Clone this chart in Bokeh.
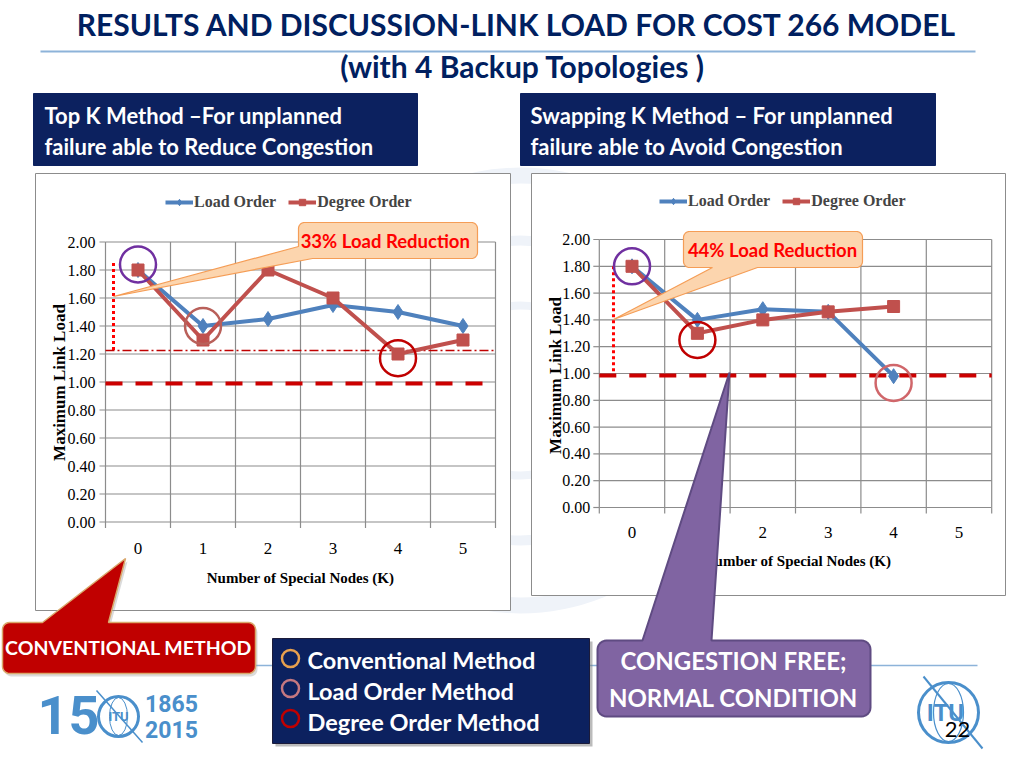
import math
from bokeh.plotting import figure
from bokeh.models import Range1d, Legend, LegendItem
from bokeh.core.properties import value
from bokeh.embed import file_html
from bokeh.resources import INLINE

# ---------------- data ----------------
k_nodes = [0, 1, 2, 3, 4, 5]
k_tick_labels = ["0", "1", "2", "3", "4", "5"]
load_ticks = [0.0, 0.2, 0.4, 0.6, 0.8, 1.0, 1.2, 1.4, 1.6, 1.8, 2.0]
load_tick_labels = ["0.00", "0.20", "0.40", "0.60", "0.80", "1.00",
                    "1.20", "1.40", "1.60", "1.80", "2.00"]
series_names = ["Load Order", "Degree Order"]

# Top K method (left chart)
topk_k = [0, 1, 2, 3, 4, 5]
topk_load_order = [1.80, 1.40, 1.45, 1.55, 1.50, 1.40]
topk_degree_order = [1.80, 1.30, 1.80, 1.60, 1.20, 1.30]
topk_congestion = 0.99
topk_reduced = 1.225
topk_conventional = 1.85
topk_mark_k = [0, 1, 4]
topk_mark_load = [1.84, 1.40, 1.17]

# Swapping K method (right chart)
swap_k = [0, 1, 2, 3, 4]
swap_load_order = [1.80, 1.40, 1.48, 1.46, 0.98]
swap_degree_order = [1.80, 1.30, 1.40, 1.46, 1.50]
swap_congestion = 0.985
swap_conventional = 1.80
swap_mark_k = [0, 1, 4]
swap_mark_load = [1.80, 1.25, 0.93]

title_lines = ["RESULTS AND DISCUSSION-LINK LOAD  FOR COST 266 MODEL",
               "(with 4 Backup Topologies )"]
left_box_lines = ["Top K Method \u2013For unplanned", "failure able to Reduce Congestion"]
right_box_lines = ["Swapping K Method \u2013 For unplanned", "failure able to Avoid Congestion"]
callout_left = "33%  Load Reduction"
callout_right = "44% Load Reduction"
conventional_text = "CONVENTIONAL METHOD"
congestion_lines = ["CONGESTION FREE;", "NORMAL CONDITION"]
method_labels = ["Conventional Method", "Load Order Method", "Degree Order Method"]
y_title = "Maximum Link Load"
x_title = "Number of Special Nodes (K)"
page_number = "22"

# ---------------- styles ----------------
BLUE = "#4F81BD"
RED = "#C0504D"
NAVY = "#0C215F"
TITLE_NAVY = "#002060"
SANS = value("Lato")
SERIF = value("Liberation Serif")
GRID = "#8C8C8C"

W, H = 1008, 752
OFF = 0
p = figure(width=W, height=H, x_range=Range1d(OFF, OFF + W), y_range=Range1d(OFF + H, OFF),
           toolbar_location=None, output_backend="svg", min_border=0,
           x_axis_location=None, y_axis_location=None,
           background_fill_color="white", border_fill_color="white")
p.grid.visible = False
p.outline_line_color = None


def txt(x, y, s, size, color, align="center", style="normal", font=SANS, angle=0.0, **kw):
    return p.text(x=[x], y=[y], text=[s], text_font=font, text_font_size=f"{size}px",
                  text_font_style=style, text_color=color, text_align=align,
                  text_baseline="middle", angle=angle, **kw)


def bubble(x0, y0, x1, y1, r, top=None, bottom=None, corner_bl=None, n=6):
    xs, ys = [], []

    def arc(cx, cy, a0, a1):
        for i in range(n + 1):
            a = a0 + (a1 - a0) * i / n
            xs.append(cx + r * math.cos(a))
            ys.append(cy + r * math.sin(a))

    def pt(x, y):
        xs.append(x)
        ys.append(y)

    arc(x0 + r, y0 + r, math.pi, 1.5 * math.pi)
    if top:
        a, b, tx, ty = top
        pt(a, y0); pt(tx, ty); pt(b, y0)
    arc(x1 - r, y0 + r, 1.5 * math.pi, 2 * math.pi)
    arc(x1 - r, y1 - r, 0, 0.5 * math.pi)
    if bottom:
        a, b, tx, ty = bottom
        pt(b, y1); pt(tx, ty); pt(a, y1)
    if corner_bl:
        a, c, tx, ty = corner_bl
        pt(a, y1); pt(tx, ty); pt(x0, c)
    else:
        arc(x0 + r, y1 - r, 0.5 * math.pi, math.pi)
    return xs, ys


# ---------------- faint watermark ----------------
for sz, lw in [(430, 16), (300, 10), (170, 8)]:
    p.scatter(x=[520], y=[390], size=sz, marker="circle", fill_color=None,
              line_color="#EFF3F9", line_width=lw)

# ---------------- title ----------------
txt(520, 23, title_lines[0], 30, TITLE_NAVY, style="bold")
p.segment(x0=[40], y0=[51], x1=[975], y1=[51], line_color="#8DB3D9", line_width=2)
txt(522, 65, title_lines[1], 30, TITLE_NAVY, style="bold")

# ---------------- top boxes ----------------
p.quad(left=[33, 520], right=[417, 935], top=[93, 93], bottom=[165, 165],
       fill_color=NAVY, line_color=NAVY)
for i, s in enumerate(left_box_lines):
    txt(44, 115 + 31 * i, s, 22, "white", align="left", style="bold")
for i, s in enumerate(right_box_lines):
    txt(530, 115 + 31 * i, s, 22, "white", align="left", style="bold")

# bottom rule
p.segment(x0=[20], y0=[665], x1=[977], y1=[665], line_color="#8DB3D9", line_width=1.5)

# ---------------- charts ----------------
charts = [
    dict(name="c1", x0=137.5, dx=65.0, y0=521.5, dy=140.0, box=(35, 173, 510, 610),
         k=topk_k, load=topk_load_order, degree=topk_degree_order,
         ytitle=(59, 382), xtitle=(300, 577), xlab_off=26, ylab_off=-10,
         legend=(165, 541)),
    dict(name="c2", x0=631.5, dx=65.4, y0=507.0, dy=134.0, box=(531, 173, 1005, 595),
         k=swap_k, load=swap_load_order, degree=swap_degree_order,
         ytitle=(555, 375), xtitle=(797, 560), xlab_off=25, ylab_off=-9,
         legend=(659, 542)),
]

xr, yr = {}, {}
for c in charts:
    xr[c["name"]] = Range1d((OFF - c["x0"]) / c["dx"], (OFF + W - c["x0"]) / c["dx"])
    yr[c["name"]] = Range1d((c["y0"] - (OFF + H)) / c["dy"], (c["y0"] - OFF) / c["dy"])
p.extra_x_ranges = xr
p.extra_y_ranges = yr

renderers = {}
for c in charts:
    nm = c["name"]
    R = dict(x_range_name=nm, y_range_name=nm)
    bx = c["box"]
    p.quad(left=[bx[0]], right=[bx[2]], top=[bx[1]], bottom=[bx[3]],
           fill_color="white", line_color="#8C8C8C", line_width=1)
    lo = k_nodes[0] - 0.5
    hi = k_nodes[-1] + 0.5
    ymax = load_ticks[-1]
    bounds = [k - 0.5 for k in k_nodes] + [hi]
    # grid
    p.segment(x0=lo, y0=load_ticks, x1=hi, y1=load_ticks, line_color=GRID, line_width=1.2, **R)
    p.segment(x0=bounds, y0=0, x1=bounds, y1=ymax, line_color=GRID, line_width=1.2, **R)
    # ticks
    p.segment(x0=bounds, y0=0, x1=bounds, y1=-6 / c["dy"], line_color=GRID, line_width=1.2, **R)
    p.segment(x0=lo - 6 / c["dx"], y0=load_ticks, x1=lo, y1=load_ticks,
              line_color=GRID, line_width=1.2, **R)
    # tick labels
    p.text(x=[lo] * len(load_ticks), y=load_ticks, text=load_tick_labels, x_offset=c["ylab_off"],
           text_font=SERIF, text_font_size="16px", text_color="black",
           text_align="right", text_baseline="middle", **R)
    p.text(x=k_nodes, y=[0] * len(k_nodes), text=k_tick_labels, y_offset=c["xlab_off"],
           text_font=SERIF, text_font_size="17px", text_color="black",
           text_align="center", text_baseline="middle", **R)
    # titles
    txt(c["ytitle"][0], c["ytitle"][1], y_title, 17, "black", style="bold", font=SERIF,
        angle=math.pi / 2)
    txt(c["xtitle"][0], c["xtitle"][1], x_title, 15, "black", style="bold", font=SERIF)
    renderers[nm] = R

# reference lines
R1, R2 = renderers["c1"], renderers["c2"]
p.segment(x0=-0.5, y0=topk_reduced, x1=5.5, y1=topk_reduced, line_color="#C00000",
          line_width=1.5, line_dash="9 3 2 3", **R1)
p.segment(x0=-0.377, y0=topk_conventional, x1=-0.377, y1=topk_reduced, line_color="#FF0000",
          line_width=3, line_dash="3 3", **R1)
p.segment(x0=-0.5, y0=topk_congestion, x1=5.5, y1=topk_congestion, line_color="#CC0000",
          line_width=4, line_dash="17 13", **R1)
p.segment(x0=-0.283, y0=swap_conventional, x1=-0.283, y1=swap_congestion, line_color="#FF0000",
          line_width=3, line_dash="3 3", **R2)
p.segment(x0=-0.5, y0=swap_congestion, x1=5.5, y1=swap_congestion, line_color="#CC0000",
          line_width=4, line_dash="17 13", **R2)

# series
for c in charts:
    R = renderers[c["name"]]
    l1 = p.line(c["k"], c["load"], line_color=BLUE, line_width=4, **R)
    s1 = p.scatter(c["k"], c["load"], marker="diamond", size=15, fill_color=BLUE,
                   line_color=BLUE, **R)
    l2 = p.line(c["k"], c["degree"], line_color=RED, line_width=4, **R)
    s2 = p.scatter(c["k"], c["degree"], marker="square", size=12, fill_color=RED,
                   line_color=RED, **R)
    lg = Legend(items=[LegendItem(label=series_names[0], renderers=[l1, s1]),
                       LegendItem(label=series_names[1], renderers=[l2, s2])],
                location=c["legend"], orientation="horizontal",
                border_line_color=None, background_fill_alpha=0,
                label_text_font="Liberation Serif", label_text_font_style="bold",
                label_text_font_size="16px", glyph_width=28, glyph_height=16,
                label_height=16, label_standoff=1, spacing=12, padding=0, margin=0)
    p.add_layout(lg)

# highlight circles
p.scatter(topk_mark_k, topk_mark_load, marker="circle", size=36, fill_color=None,
          line_color=["#7030A0", "#B9605A", "#C00000"], line_width=2.5, **R1)
p.scatter(swap_mark_k, swap_mark_load, marker="circle", size=36, fill_color=None,
          line_color=["#7030A0", "#C00000", "#D0666A"], line_width=2.5, **R2)

# ---------------- callouts ----------------
xs, ys = bubble(298, 222, 477, 258, 6, corner_bl=(312, 246, 113, 296))
p.patch(xs, ys, fill_color="#FCD5AE", line_color="#F59D56", line_width=1.2)
txt(387, 240, callout_left, 18.5, "#FF0000", style="bold")

xs, ys = bubble(683, 231, 862, 267, 6, bottom=(712, 757, 613, 319))
p.patch(xs, ys, fill_color="#FCD5AE", line_color="#F59D56", line_width=1.2)
txt(772, 249, callout_right, 18.5, "#FF0000", style="bold")

xs, ys = bubble(2, 622, 255, 673, 7, top=(42, 108, 125, 558))
p.patch([x + 2 for x in xs], [y + 3 for y in ys], fill_color="#999999", fill_alpha=0.35,
        line_color=None)
p.patch(xs, ys, fill_color="#C00000", line_color="#D9A86C", line_width=1.5)
txt(128, 647, conventional_text, 19.5, "white", style="bold")

xs, ys = bubble(597, 640, 870, 716, 9, top=(642, 711, 729, 372))
p.patch(xs, ys, fill_color="#8064A2", line_color="#5F4B82", line_width=2)
txt(733, 660, congestion_lines[0], 24, "white", style="bold")
txt(733, 697, congestion_lines[1], 24, "white", style="bold")

# method legend box
p.quad(left=[275], right=[592], top=[641], bottom=[746], fill_color="#777777",
       fill_alpha=0.5, line_color=None)
p.quad(left=[272], right=[589], top=[638], bottom=[743], fill_color=NAVY,
       line_color="#1B1B3A", line_width=1)
p.scatter(x=[290, 290, 290], y=[658, 688, 718], marker="circle", size=17, fill_color=None,
          line_color=["#E8A04E", "#C57880", "#C00000"], line_width=2.5)
for i, s in enumerate(method_labels):
    txt(307, 659 + 31 * i, s, 23.5, "white", align="left", style="bold")

# ---------------- logos ----------------
LOGO = "#4A8FCB"
txt(68, 714, "15", 54, LOGO, style="bold", font=value("Roboto"))
p.scatter(x=[118], y=[716], marker="circle", size=40, fill_color="white",
          line_color=LOGO, line_width=3)
p.ellipse(x=[118], y=[716], width=18, height=38, fill_color=None, line_color=LOGO, line_width=1)
p.segment(x0=[96], y0=[690], x1=[142], y1=[742], line_color=LOGO, line_width=1.5)
txt(118, 716, "ITU", 13, LOGO, style="bold", font=value("Roboto"))
txt(171, 703, "1865", 23, LOGO, style="bold", font=value("Roboto"))
txt(171, 729, "2015", 23, LOGO, style="bold", font=value("Roboto"))

p.scatter(x=[948], y=[712], marker="circle", size=60, fill_color="white",
          line_color=LOGO, line_width=3)
p.ellipse(x=[948], y=[712], width=30, height=58, fill_color=None, line_color=LOGO, line_width=1.2)
p.segment(x0=[923], y0=[676], x1=[982], y1=[748], line_color=LOGO, line_width=2)
txt(945, 712, "ITU", 24, LOGO, style="bold", font=value("Roboto"))
txt(957, 729, page_number, 22, "black")

open("out.html", "w").write(file_html(p, INLINE))
